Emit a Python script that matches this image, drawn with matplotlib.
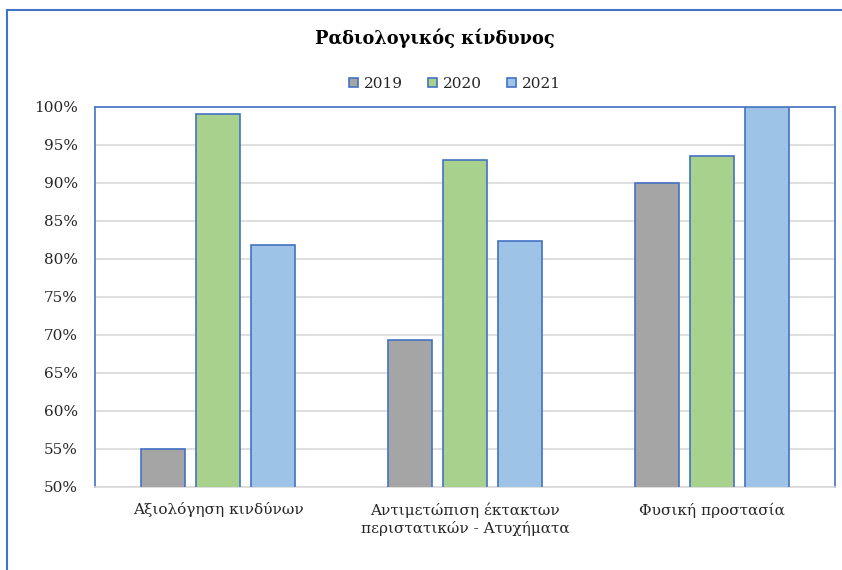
import numpy as np
import matplotlib.pyplot as plt
from matplotlib.patches import Rectangle
from matplotlib.ticker import FuncFormatter

# --- dane ---
kategorie = ["Αξιολόγηση κινδύνων",
             "Αντιμετώπιση έκτακτων\nπεριστατικών - Ατυχήματα",
             "Φυσική προστασία"]
lata = ["2019", "2020", "2021"]
w2019 = [55.0, 69.4, 90.0]
w2020 = [99.1, 93.0, 93.6]
w2021 = [81.9, 82.4, 100.0]
y_ticks = [50, 55, 60, 65, 70, 75, 80, 85, 90, 95, 100]

kolory = ["#A5A5A5", "#A9D18E", "#9DC3E6"]
krawedz = "#4472C4"

plt.rcParams['font.family'] = ['DejaVu Serif']

fig = plt.figure(figsize=(8.42, 5.70), dpi=100)
ax = fig.add_axes([95/842, 83/570, 740/842, 380/570])

x = np.arange(len(kategorie))
szer = 0.178
krok = 0.223
for i, (vals, lab, kol) in enumerate(zip([w2019, w2020, w2021], lata, kolory)):
    ax.bar(x + (i - 1) * krok, vals, szer, bottom=0, color=kol,
           edgecolor=krawedz, linewidth=1.2, label=lab, zorder=3)

ax.set_xlim(-0.5, 2.5)
ax.set_ylim(50, 100)
ax.set_yticks(y_ticks)
ax.yaxis.set_major_formatter(FuncFormatter(lambda v, p: f"{v:.0f}%"))
ax.set_xticks(x)
ax.set_xticklabels(kategorie, fontsize=11, color="#262626", linespacing=1.25)
ax.tick_params(axis="both", length=0, labelsize=11, labelcolor="#262626")
ax.tick_params(axis="x", pad=11)
ax.tick_params(axis="y", pad=12.5)
ax.grid(axis="y", color="#D9D9D9", linewidth=1.2, zorder=0)

for s in ["left", "top", "right"]:
    ax.spines[s].set_color(krawedz)
    ax.spines[s].set_linewidth(1.2)
ax.spines["bottom"].set_color("#D9D9D9")
ax.spines["bottom"].set_linewidth(1.2)

fig.text(435/842, 1 - 38/570, "Ραδιολογικός κίνδυνος", ha="center", va="center",
         fontsize=12.8, fontweight="bold", color="black")

fig.legend(loc="center", bbox_to_anchor=(455/842, 1 - 84/570), ncol=3, frameon=False,
           fontsize=11, handlelength=0.6, handleheight=0.6, handletextpad=0.4,
           columnspacing=1.6, labelcolor="#262626")

# ramka całego wykresu
fig.patches.append(Rectangle((7/842, -0.05), 1.1, 1 - 10/570 + 0.05,
                             transform=fig.transFigure, fill=False,
                             edgecolor=krawedz, linewidth=1.5))

fig.savefig("out.png", dpi=100)
